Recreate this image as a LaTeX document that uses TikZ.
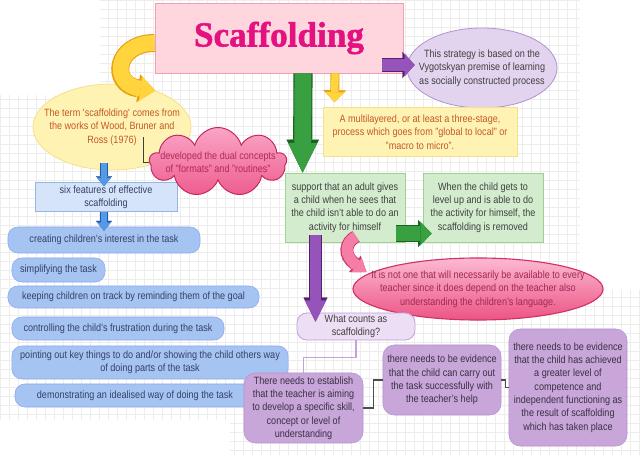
\documentclass[tikz,border=0pt]{standalone}
\usepackage{fontspec}
\setmainfont{Liberation Sans}[FakeStretch=0.86]
\newfontfamily\titlefont{Liberation Serif Bold}[FakeBold=1.5]
\usepackage{xcolor}
\usetikzlibrary{shapes.geometric, shapes.symbols, arrows.meta, calc}

\definecolor{titlefill}{RGB}{255,214,222}
\definecolor{titleedge}{RGB}{240,160,180}
\definecolor{titletext}{RGB}{228,18,128}
\definecolor{yelfill}{RGB}{255,243,180}
\definecolor{yeledge}{RGB}{246,224,140}
\definecolor{orangetext}{RGB}{196,88,40}
\definecolor{lilacfill}{RGB}{226,212,238}
\definecolor{lilacedge}{RGB}{180,150,205}
\definecolor{graytext}{RGB}{64,64,64}
\definecolor{cloudtop}{RGB}{250,165,198}
\definecolor{cloudbot}{RGB}{238,92,142}
\definecolor{cloudedge}{RGB}{196,40,92}
\definecolor{cloudtext}{RGB}{178,40,90}
\definecolor{palebluefill}{RGB}{214,228,250}
\definecolor{paleblueedge}{RGB}{150,180,228}
\definecolor{bluefill}{RGB}{166,196,242}
\definecolor{bluetext}{RGB}{52,64,104}
\definecolor{greenfill}{RGB}{212,236,206}
\definecolor{greenedge}{RGB}{160,208,146}
\definecolor{pinktop}{RGB}{252,185,210}
\definecolor{pinkbot}{RGB}{236,84,132}
\definecolor{pinkedge}{RGB}{208,50,100}
\definecolor{pinktext}{RGB}{160,40,85}
\definecolor{whatfill}{RGB}{236,222,244}
\definecolor{whatedge}{RGB}{196,162,216}
\definecolor{purplefill}{RGB}{200,166,218}
\definecolor{purpleedge}{RGB}{184,146,206}
\definecolor{purpletext}{RGB}{58,48,66}
\definecolor{arryellow}{RGB}{255,212,60}
\definecolor{arryellowedge}{RGB}{232,160,20}
\definecolor{arrgreen}{RGB}{56,160,64}
\definecolor{arrgreenedge}{RGB}{24,100,32}
\definecolor{arrpurple}{RGB}{150,84,186}
\definecolor{arrpurpleedge}{RGB}{84,32,112}
\definecolor{arrblue}{RGB}{84,154,230}
\definecolor{arrblueedge}{RGB}{32,92,170}
\definecolor{arrpink}{RGB}{246,126,166}
\definecolor{arrpinkedge}{RGB}{206,56,106}

\tikzset{
  txt/.style={font=\fontsize{7.5}{9.5}\selectfont, align=center},
  titlebox/.style={draw=titleedge, fill=titlefill, line width=0.6pt, inner sep=0pt},
  oval/.style={ellipse, inner sep=0pt, line width=0.6pt},
  yellowbox/.style={txt, draw=yeledge, fill=yelfill, text=orangetext, line width=0.6pt, inner sep=1pt},
  sixbox/.style={txt, draw=paleblueedge, fill=palebluefill, text=bluetext, line width=0.6pt, inner sep=1pt},
  featbox/.style={txt, draw=bluefill!85!blue, fill=bluefill, text=bluetext, rounded corners=7pt, inner sep=1pt},
  greenbox/.style={txt, draw=greenedge, fill=greenfill, text=graytext, line width=0.6pt,
                   minimum width=3cm, minimum height=1.725cm, inner sep=1pt},
  whatbox/.style={txt, draw=whatedge, fill=whatfill, text=graytext, rounded corners=7pt, line width=0.6pt, inner sep=1pt},
  purplebox/.style={txt, draw=purpleedge, fill=purplefill, text=purpletext, rounded corners=8pt, inner sep=1pt},
  gridline/.style={draw=gray!14, line width=0.3pt}
}

\begin{document}
\begin{tikzpicture}[
  x=0.025cm, y=-0.025cm,
  linkline/.style={draw=black!75, line width=0.7pt},
  lilacline/.style={draw=whatedge, line width=0.8pt},
  darkline/.style={draw=black!70, line width=0.8pt},
  greenarrow/.style={draw=arrgreen, line width=12pt, -{Triangle[width=20.5pt,length=21pt,line width=0.1pt]},
    preaction={draw=arrgreenedge, line width=13.6pt, -{Triangle[width=23pt,length=23.4pt,line width=0.1pt]}}},
  greenright/.style={draw=arrgreen, line width=10.6pt, -{Triangle[width=17pt,length=8pt,line width=0.1pt]},
    preaction={draw=arrgreenedge, line width=12pt, -{Triangle[width=19.2pt,length=9.6pt,line width=0.1pt]}}},
  yellowarrow/.style={draw=arryellow, line width=5.2pt, -{Triangle[width=14pt,length=7pt,line width=0.1pt]},
    preaction={draw=arryellowedge, line width=6.4pt, -{Triangle[width=16.3pt,length=8.5pt,line width=0.1pt]}}},
  yellowcurve/.style={draw=arryellow, line width=11.2pt, -{Triangle[width=17.8pt,length=10.4pt,line width=0.1pt]},
    preaction={draw=arryellowedge, line width=12.8pt, -{Triangle[width=20pt,length=12pt,line width=0.1pt]}}},
  purplearrow/.style={draw=arrpurple, line width=8.6pt, -{Triangle[width=16.2pt,length=7pt,line width=0.1pt]},
    preaction={draw=arrpurpleedge, line width=10pt, -{Triangle[width=18.4pt,length=8.6pt,line width=0.1pt]}}},
  purpledown/.style={draw=arrpurple, line width=7.3pt, -{Triangle[width=15pt,length=15pt,line width=0.1pt]},
    preaction={draw=arrpurpleedge, line width=8.6pt, -{Triangle[width=17pt,length=17pt,line width=0.1pt]}}},
  bluearrow/.style={draw=arrblue, line width=4.6pt, -{Triangle[width=9.6pt,length=5.8pt,line width=0.1pt]},
    preaction={draw=arrblueedge, line width=5.8pt, -{Triangle[width=11.4pt,length=7pt,line width=0.1pt]}}},
  pinkcurve/.style={draw=arrpink, line width=7.8pt, -{Triangle[width=12.4pt,length=8.5pt,line width=0.1pt]},
    preaction={draw=arrpinkedge, line width=9.2pt, -{Triangle[width=14.2pt,length=10pt,line width=0.1pt]}}}
]
\useasboundingbox (0,0) rectangle (640,459);

% background grid
\draw[gridline, step=0.225cm] (100,0) grid (580,95);
\draw[gridline, step=0.225cm] (0,95) grid (580,420);
\draw[gridline, step=0.225cm] (230,420) grid (640,455);
\draw[gridline, step=0.225cm] (580,290) grid (640,420);

\node[titlebox, minimum width=6.2cm, minimum height=1.75cm] (title) at (279,38)
  {\titlefont\fontsize{25}{25}\selectfont\textcolor{titletext}{Scaffolding}};

\node[oval, draw=yeledge, fill=yelfill, minimum width=3.95cm, minimum height=2.15cm,
  label={[txt, text=orangetext]center:{The term \textquotesingle scaffolding\textquotesingle{} comes from\\the works of Wood, Bruner and\\Ross (1976)}}] (term) at (112,127) {};

\node[sixbox, minimum width=3.55cm, minimum height=0.725cm] (six) at (106,197) {six features of effective\\scaffolding};

\node[cloud, cloud puffs=9, cloud ignores aspect, draw=cloudedge, line width=0.7pt,
  top color=cloudtop, bottom color=cloudbot, minimum width=3.425cm, minimum height=1.725cm, inner sep=0pt,
  label={[txt, text=cloudtext]center:{developed the dual concepts\\of "formats" and "routines"}}] (cloud) at (218,162) {};

\node[oval, draw=lilacedge, fill=lilacfill, minimum width=3.75cm, minimum height=2cm,
  label={[txt, text=graytext]center:{This strategy is based on the\\Vygotskyan premise of learning\\as socially constructed process}}] (strategy) at (482,68) {};

\node[yellowbox, minimum width=4.85cm, minimum height=1.225cm] (multi) at (420,132)
  {A multilayered, or at least a three-stage,\\process which goes from "global to local" or\\"macro to micro".};

% six features
\node[featbox, minimum width=4.8cm, minimum height=0.65cm] (feat1) at (104,240) {creating children's interest in the task};
\node[featbox, minimum width=2.325cm, minimum height=0.6cm] (feat2) at (58.5,270) {simplifying the task};
\node[featbox, minimum width=6.275cm, minimum height=0.55cm] (feat3) at (133.5,297) {keeping children on track by reminding them of the goal};
\node[featbox, minimum width=5.3cm, minimum height=0.575cm] (feat4) at (118,328.5) {controlling the child's frustration during the task};
\node[featbox, minimum width=6.9cm, minimum height=0.825cm] (feat5) at (150,362.5) {pointing out key things to do and/or showing the child others way\\of doing parts of the task};
\node[featbox, minimum width=6cm, minimum height=0.575cm] (feat6) at (135,395.5) {demonstrating an idealised way of doing the task};

\node[greenbox] (support) at (345,207.5) {support that an adult gives\\a child when he sees that\\the child isn't able to do an\\activity for himself};
\node[greenbox] (removed) at (483,207.5) {When the child gets to\\level up and is able to do\\the activity for himself, the\\scaffolding is removed};

\node[oval, draw=pinkedge, line width=0.8pt, top color=pinktop, bottom color=pinkbot, minimum width=6.25cm, minimum height=1.55cm,
  label={[txt, text=pinktext]center:{It is not one that will necessarily be available to every\\teacher since it does depend on the teacher also\\understanding the children's language.}}] (language) at (478,289) {};

\node[whatbox, minimum width=2.95cm, minimum height=0.675cm] (what) at (356,326.5) {What counts as\\scaffolding?};

\node[purplebox, minimum width=2.975cm, minimum height=1.75cm] (aim) at (303.5,408) {There needs to establish\\that the teacher is aiming\\to develop a specific skill,\\concept or level of\\understanding};
\node[purplebox, minimum width=2.95cm, minimum height=1.75cm] (help) at (442,380) {there needs to be evidence\\that the child can carry out\\the task successfully with\\the teacher's help};
\node[purplebox, minimum width=2.95cm, minimum height=2.925cm] (independent) at (568,387.5) {there needs to be evidence\\that the child has achieved\\a greater level of\\competence and\\independent functioning as\\the result of scaffolding\\which has taken place};

% thin connectors
\draw[linkline] ($(term.south)+(31,-33)$) |- (cloud.west);
\draw[lilacline] (what.south) -- ++(0,17) -| (aim.north);
\draw[darkline] (aim.east) -- ++(10,0) |- (help.west);
\draw[darkline] (help.east) -- ++(4,0) |- (independent.west);

% block arrows
\draw[yellowcurve] ($(title.west)+(0,5)$) .. controls ($(title.west)+(-40,5)$) and ($(term.north)+(-2,1)$) .. ($(term.north)+(43,7)$);
\draw[greenarrow] ($(title.south)+(24,0)$) -- ($(support.north west)+(18,0)$);
\draw[yellowarrow] ($(title.south)+(56,0)$) -- ($(multi.north west)+(12,-5)$);
\draw[purplearrow] ($(title.east)+(-21,27)$) -- ($(strategy.west)+(8,-3)$);
\draw[bluearrow] ($(term.south)+(-8,-7)$) -- ($(six.north)+(-2,4)$);
\draw[bluearrow] (six.south -| feat1.north) -- ($(feat1.north)+(0,4)$);
\draw[greenright] ($(support.east)+(-9,26)$) -- ($(removed.west)+(9,26)$);
\draw[pinkcurve] ($(support.south)+(11,-6)$) .. controls ($(support.south)+(0,0)$) and ($(support.south)+(-2,13)$) .. ($(language.west)+(14,-17)$);
\draw[purpledown] ($(support.south)+(-29.5,-7)$) -- ($(what.north)+(-40.5,9)$);
\end{tikzpicture}
\end{document}
